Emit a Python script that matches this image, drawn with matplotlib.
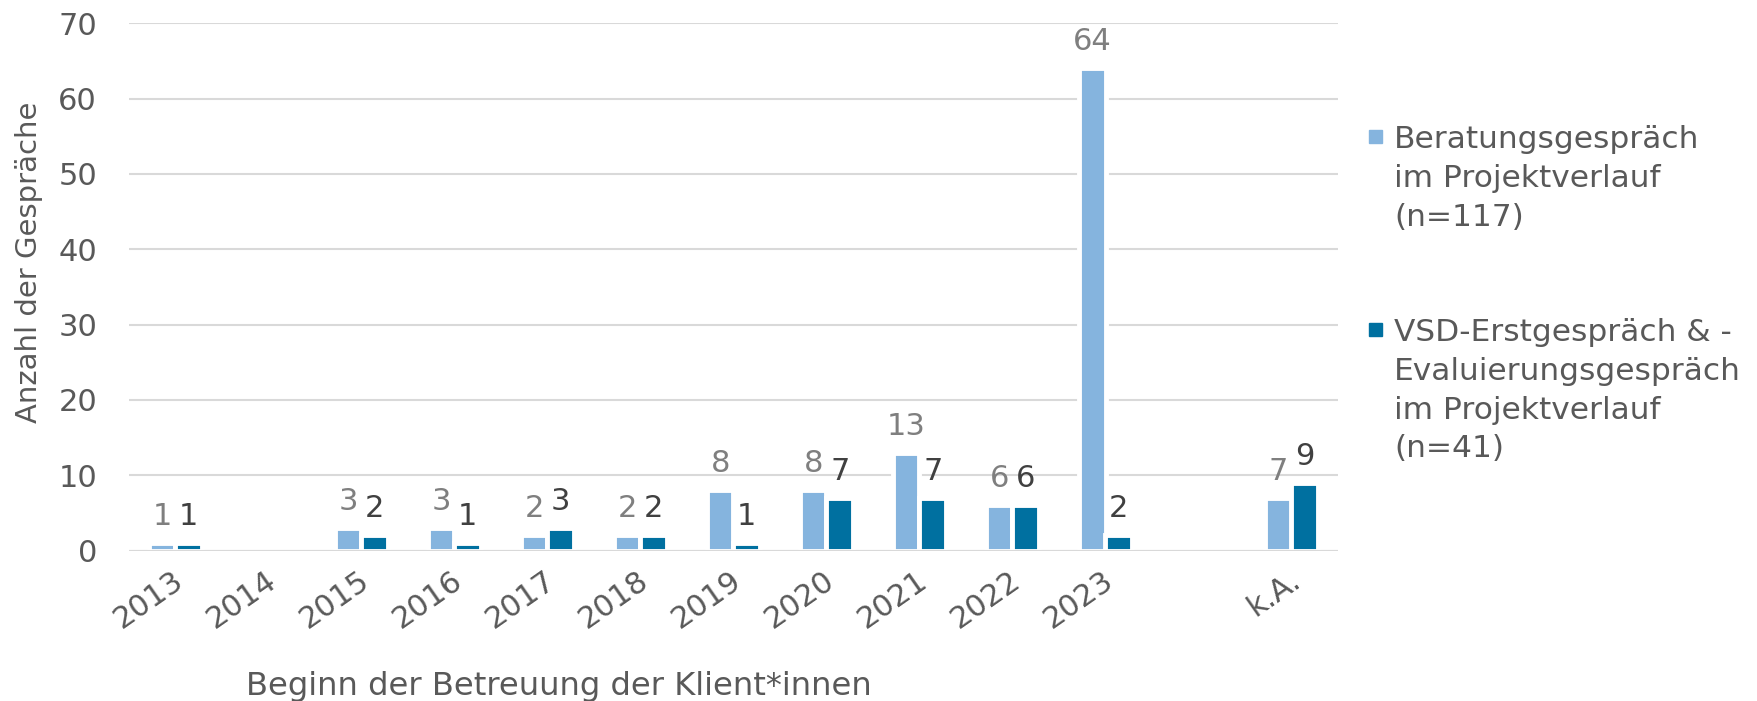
import matplotlib.pyplot as plt
from matplotlib.patches import Rectangle
from matplotlib.transforms import ScaledTranslation
import numpy as np

# data
years = ['2013', '2014', '2015', '2016', '2017', '2018', '2019',
         '2020', '2021', '2022', '2023', '', 'k.A.']
beratung = [1, 0, 3, 3, 2, 2, 8, 8, 13, 6, 64, 0, 7]
vsd = [1, 0, 2, 1, 3, 2, 1, 7, 7, 6, 2, 0, 9]

legend_1 = ['Beratungsgespräch', 'im Projektverlauf', '(n=117)']
legend_2 = ['VSD-Erstgespräch & -', 'Evaluierungsgespräch',
            'im Projektverlauf', '(n=41)']

light = '#85B4DE'
dark = '#0070A0'
txt = '#595959'
grid = '#D9D9D9'

W, H = 1758, 701
fig = plt.figure(figsize=(W / 100, H / 100), dpi=100)
ax = fig.add_axes([129 / W, 1 - 550.5 / H, (1338 - 129) / W, (550.5 - 23.3) / H])

x = np.arange(len(years))
bw = 0.285
lw1 = [3.5 if v > 0 else 0 for v in beratung]
lw2 = [3.5 if v > 0 else 0 for v in vsd]
b1 = ax.bar(x - bw / 2, beratung, bw, color=light, edgecolor='white', linewidth=lw1, zorder=3)
b2 = ax.bar(x + bw / 2, vsd, bw, color=dark, edgecolor='white', linewidth=lw2, zorder=3)

# value labels above bars
for bars, vals, col in [(b1, beratung, '#7F7F7F'), (b2, vsd, '#404040')]:
    for rect, v in zip(bars, vals):
        if v > 0:
            ax.annotate(str(v), (rect.get_x() + rect.get_width() / 2, v),
                        xytext=(0, 13), textcoords='offset points',
                        ha='center', va='baseline', fontsize=22, color=col)

ax.set_xlim(-0.5, len(years) - 0.5)
ax.set_ylim(0, 70)
ax.set_yticks(range(0, 71, 10))
ax.set_xticks(x)
ax.set_xticklabels(years, rotation=35, ha='right', rotation_mode='anchor')
ax.tick_params(axis='y', length=0, pad=23, labelsize=22, labelcolor=txt)
ax.tick_params(axis='x', length=0, pad=11, labelsize=22, labelcolor=txt)
shift = ScaledTranslation(-3 / 100, 0, fig.dpi_scale_trans)
for lab in ax.get_xticklabels():
    lab.set_transform(lab.get_transform() + shift)
ax.grid(axis='y', color=grid, linewidth=1.5, zorder=0)
ax.axhline(0, color=grid, linewidth=1.5, zorder=4)
for s in ax.spines.values():
    s.set_visible(False)

fig.text(559 / W, 1 - 695 / H, 'Beginn der Betreuung der Klient*innen',
         ha='center', va='baseline', fontsize=23.2, color=txt)
fig.text(29.5 / W, 1 - 262 / H, 'Anzahl der Gespräche', rotation=90,
         ha='center', va='center', fontsize=21, color=txt)

# legend drawn by hand so the squares sit on the first line
for lines, col, sq_top, base in [(legend_1, light, 130, 148), (legend_2, dark, 323, 341)]:
    fig.add_artist(Rectangle((1369 / W, 1 - (sq_top + 13) / H), 13 / W, 13 / H,
                             transform=fig.transFigure, color=col))
    for i, line in enumerate(lines):
        fig.text(1394 / W, 1 - (base + i * 38.8) / H, line,
                 ha='left', va='baseline', fontsize=22.5, color=txt)

fig.savefig('out.png', dpi=100)
